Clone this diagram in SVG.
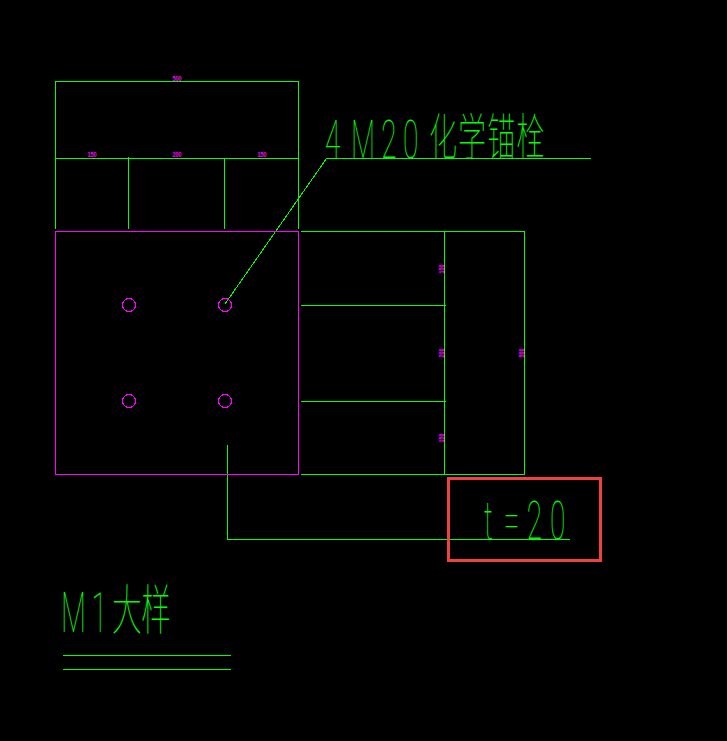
<svg xmlns="http://www.w3.org/2000/svg" width="727" height="741" viewBox="0 0 727 741">
<style>
.g{stroke:#00ff00;fill:none;stroke-width:1;shape-rendering:crispEdges}
.m{stroke:#ff00ff;fill:none;stroke-width:1;shape-rendering:crispEdges}
.dim{fill:#ff00ff;font:bold 7px "Liberation Sans",sans-serif;text-anchor:middle}
.lat{fill:#00ff00;font-family:"Roboto","Liberation Sans",sans-serif;font-weight:100}
.cjk{fill:#00ff00;font-family:"Noto Sans CJK SC",sans-serif;font-weight:100}
</style>
<rect width="727" height="741" fill="#000"/>
<g id="connectors">
<path class="g" d="M55.5 229V81.5H298.5V229M55.5 158.500H298.500M128.500 157V229M224.500 158V229"/>
<path class="g" d="M225 304L326.500 158.500H591"/>
<path class="g" d="M301 231.500H524.500V474.500H301M444.500 231.500V474.500M301 305.500H446M301 401.500H446"/>
<path class="g" d="M227.500 445V539.500H570"/>
<path class="g" d="M63 655.500H231M63 669.500H231"/>
</g>
<g id="plate">
<rect class="m" x="55.500" y="231.500" width="243" height="243"/>
</g>
<g id="bolts">
<circle class="m" cx="129" cy="305" r="6.500"/>
<circle class="m" cx="225" cy="305" r="6.500"/>
<circle class="m" cx="129" cy="401" r="6.500"/>
<circle class="m" cx="225" cy="401" r="6.500"/>
</g>
<g id="dimensions">
<text class="dim" x="177" y="81" textLength="9" lengthAdjust="spacingAndGlyphs">500</text>
<text class="dim" x="92" y="157" textLength="9" lengthAdjust="spacingAndGlyphs">150</text>
<text class="dim" x="177" y="157" textLength="9" lengthAdjust="spacingAndGlyphs">200</text>
<text class="dim" x="262" y="157" textLength="9" lengthAdjust="spacingAndGlyphs">150</text>
<text class="dim" transform="translate(444 269) rotate(-90)" textLength="9" lengthAdjust="spacingAndGlyphs">150</text>
<text class="dim" transform="translate(444 353) rotate(-90)" textLength="9" lengthAdjust="spacingAndGlyphs">200</text>
<text class="dim" transform="translate(444 438) rotate(-90)" textLength="9" lengthAdjust="spacingAndGlyphs">150</text>
<text class="dim" transform="translate(524 353) rotate(-90)" textLength="9" lengthAdjust="spacingAndGlyphs">500</text>
</g>
<g id="anchor-label">
<text class="lat" font-size="54" transform="translate(325 158) scale(.52 1)" x="0 50 108 150">4M20</text>
<text class="cjk" font-size="50" transform="translate(429 155) scale(.56 1)" x="0 52 104 156">化学锚栓</text>
</g>
<g id="thickness-label">
<rect x="448.500" y="478.500" width="152" height="82" fill="none" stroke="#f04040" stroke-width="3"/>
<text class="lat" font-size="54" transform="translate(484 539) scale(.52 1)" x="0 38 82 127">t=20</text>
</g>
<g id="title">
<text class="lat" font-size="56" transform="translate(61 632) scale(.52 1)" x="0 58">M1</text>
<text class="cjk" font-size="54" transform="translate(112 630) scale(.55 1)" x="0 53">大样</text>
</g>
</svg>
